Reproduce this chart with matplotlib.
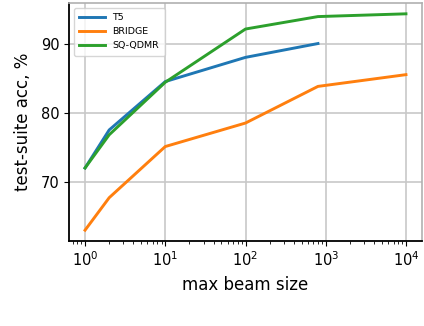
import matplotlib
matplotlib.use("Agg")
import matplotlib.pyplot as plt

beam_t5 = [1, 2, 10, 100, 800]
acc_t5 = [72.1, 77.6, 84.6, 88.1, 90.1]
beam_bridge = [1, 2, 10, 100, 800, 10000]
acc_bridge = [63.1, 67.8, 75.2, 78.6, 83.9, 85.6]
beam_sq = [1, 2, 10, 100, 800, 10000]
acc_sq = [72.1, 76.9, 84.5, 92.2, 94.0, 94.4]

fig = plt.figure(figsize=(4.24, 3.26), dpi=100)
ax = fig.add_axes([69/424, 1-241/326, (422-69)/424, (241-3)/326])

ax.plot(beam_t5, acc_t5, color='#1f77b4', lw=2.1, label='T5')
ax.plot(beam_bridge, acc_bridge, color='#ff7f0e', lw=2.1, label='BRIDGE')
ax.plot(beam_sq, acc_sq, color='#2ca02c', lw=2.1, label='SQ-QDMR')
ax.set_xscale('log')
ax.set_yticks([70, 80, 90])
ax.grid(True, color='#c8c8c8', lw=1.2)
ax.set_axisbelow(True)
for s in ['top', 'right']:
    ax.spines[s].set_color('#b0b0b0')
    ax.spines[s].set_linewidth(1.2)
for s in ['left', 'bottom']:
    ax.spines[s].set_linewidth(1.3)
ax.tick_params(labelsize=10.5)
ax.set_xlabel('max beam size', fontsize=12, labelpad=5)
ax.set_ylabel('test-suite acc, %', fontsize=12, labelpad=6)
ax.legend(loc='upper left', fontsize=6.8, handlelength=2.7, borderpad=0.6,
          labelspacing=0.5, framealpha=0.8)

fig.savefig('out.png', dpi=100)
